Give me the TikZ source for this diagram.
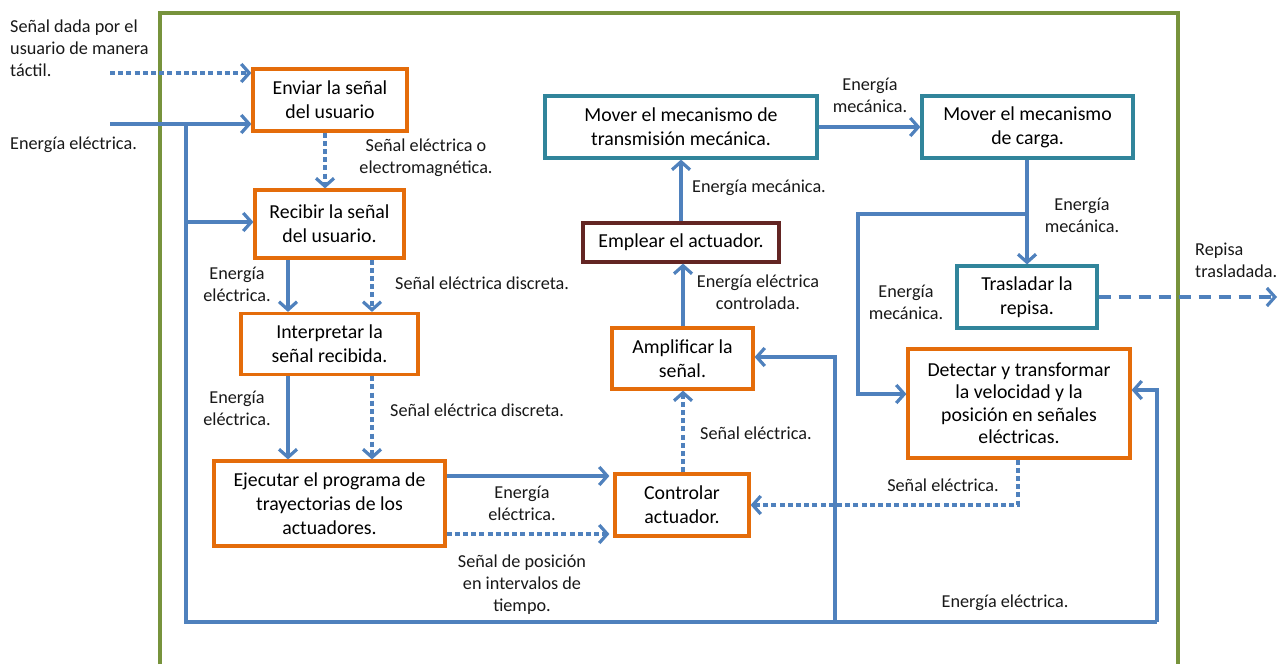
\documentclass[tikz,border=0pt]{standalone}
\usepackage{fontspec}
\setmainfont{Carlito}
\usetikzlibrary{arrows.meta}
\definecolor{frameg}{RGB}{119,147,60}
\definecolor{orng}{RGB}{228,108,10}
\definecolor{tealb}{RGB}{49,133,155}
\definecolor{brwn}{RGB}{99,37,35}
\definecolor{arr}{RGB}{79,129,189}
\definecolor{txt}{RGB}{25,25,25}
\tikzset{
  box/.style={draw, line width=3.2pt, align=center, font=\fontsize{19.8}{24}\selectfont, inner sep=2pt, text=black},
  obox/.style={box, draw=orng},
  tbox/.style={box, draw=tealb},
  bbox/.style={box, draw=brwn},
  lbl/.style={align=center, font=\fontsize{18.2}{22}\selectfont, text=txt, inner sep=0pt},
  lbll/.style={lbl, align=left},
  wire/.style={draw=arr, line width=3.2pt},
  flow/.style={wire, -{Straight Barb[length=8pt,width=18pt]}},
  sig/.style={flow, dash pattern=on 5pt off 3.2pt},
  dsh/.style={flow, dash pattern=on 12pt off 8pt}
}
\begin{document}
\begin{tikzpicture}[x=1pt,y=-1pt]
\useasboundingbox (0,0) rectangle (1287,664);
\fill[white] (0,0) rectangle (1287,664);
\draw[frameg, line width=4.5pt] (160,664) -- (160,13) -- (1178,13) -- (1178,664);

% boxes
\node[obox, minimum width=154pt, minimum height=62pt] (enviar) at (330,100) {Enviar la señal\\del usuario};
\node[obox, minimum width=149pt, minimum height=68pt] (recibir) at (329.5,224) {Recibir la señal\\del usuario.};
\node[obox, minimum width=177pt, minimum height=61pt] (interp) at (329.5,344) {Interpretar la\\señal recibida.};
\node[obox, minimum width=231pt, minimum height=85pt] (ejec) at (329.5,503.5) {Ejecutar el programa de\\trayectorias de los\\actuadores.};
\node[obox, minimum width=134pt, minimum height=62pt] (control) at (682,505) {Controlar\\actuador.};
\node[obox, minimum width=141pt, minimum height=61pt] (ampl) at (682.5,358.5) {Amplificar la\\señal.};
\node[bbox, minimum width=196pt, minimum height=39pt] (emplear) at (681,242.5) {Emplear el actuador.};
\node[tbox, minimum width=272pt, minimum height=62pt] (movtrans) at (681,127) {Mover el mecanismo de\\transmisión mecánica.};
\node[tbox, minimum width=211pt, minimum height=62pt] (movcarga) at (1027.5,127) {Mover el mecanismo\\de carga.};
\node[tbox, minimum width=140pt, minimum height=62pt] (trasl) at (1027,297) {Trasladar la\\repisa.};
\node[obox, minimum width=222pt, minimum height=109pt, font=\fontsize{19.8}{22.5}\selectfont] (detect) at (1019,403.5) {Detectar y transformar\\la velocidad y la\\posición en señales\\eléctricas.};

% helper coordinates
\coordinate (tin) at (110,73);
\coordinate (ein) at (110,124);
\coordinate (j1) at (186,124);
\coordinate (r1) at (186,222);
\coordinate (b1) at (186,622);
\coordinate (b2) at (835,622);
\coordinate (b3) at (1157,622);
\coordinate (d1) at (1157,390);
\coordinate (a1) at (835,357);
\coordinate (x325) at (325,0);
\coordinate (x288) at (288,0);
\coordinate (x372) at (372,0);
\coordinate (x683) at (683,0);
\coordinate (x1018) at (1018,0);
\coordinate (y476) at (0,476);
\coordinate (y534) at (0,534);
\coordinate (mc1) at (1027,214);
\coordinate (mc2) at (858,214);
\coordinate (mc3) at (858,394);
\coordinate (out) at (1277,297);

% connectors
\draw[sig] (tin) -- (tin -| enviar.west);
\draw[flow] (ein) -- (ein -| enviar.west);
\draw[wire] (j1) -- (b1) -- (b3);
\draw[flow] (r1) -- (r1 -| recibir.west);
\draw[flow] (b3) -- (d1) -- (d1 -| detect.east);
\draw[flow] (b2) -- (a1) -- (a1 -| ampl.east);

\draw[sig] (x325 |- enviar.south) -- (x325 |- recibir.north);
\draw[flow] (x288 |- recibir.south) -- (x288 |- interp.north);
\draw[sig] (x372 |- recibir.south) -- (x372 |- interp.north);
\draw[flow] (x288 |- interp.south) -- (x288 |- ejec.north);
\draw[sig] (x372 |- interp.south) -- (x372 |- ejec.north);
\draw[flow, shorten >=4pt] (y476 -| ejec.east) -- (y476 -| control.west);
\draw[sig, shorten >=4pt] (y534 -| ejec.east) -- (y534 -| control.west);
\draw[sig] (x683 |- control.north) -- (x683 |- ampl.south);
\draw[flow] (x683 |- ampl.north) -- (x683 |- emplear.south);
\draw[flow] (emplear.north) -- (movtrans.south);
\draw[flow] (movtrans.east) -- (movcarga.west);
\draw[flow] (movcarga.south -| trasl.north) -- (trasl.north);
\draw[flow] (mc1) -- (mc2) -- (mc3) -- (mc3 -| detect.west);
\draw[dsh] (trasl.east) -- (out);
\draw[sig] (x1018 |- detect.south) |- (control.east);

% labels
\node[lbll, anchor=north west] (l1) at (10,20) {Señal dada por el\\usuario de manera\\táctil.};
\node[lbll, anchor=west] (l2) at (10,145) {Energía eléctrica.};
\node[lbl] (l3) at (426,158) {Señal eléctrica o\\electromagnética.};
\node[lbl] (l4) at (237,284) {Energía\\eléctrica.};
\node[lbll, anchor=west] (l5) at (395,283) {Señal eléctrica discreta.};
\node[lbl] (l6) at (237,408) {Energía\\eléctrica.};
\node[lbll, anchor=west] (l7) at (390,410) {Señal eléctrica discreta.};
\node[lbl] (l8) at (522,503) {Energía\\eléctrica.};
\node[lbl] (l9) at (522,585) {Señal de posición\\en intervalos de\\tiempo.};
\node[lbll, anchor=west] (l10) at (700,433) {Señal eléctrica.};
\node[lbl] (l11) at (758,292) {Energía eléctrica\\controlada.};
\node[lbll, anchor=west] (l12) at (692,188) {Energía mecánica.};
\node[lbl] (l13) at (870,95) {Energía\\mecánica.};
\node[lbl] (l14) at (1082,215) {Energía\\mecánica.};
\node[lbl] (l15) at (906,302) {Energía\\mecánica.};
\node[lbll, anchor=west] (l16) at (1195,260) {Repisa\\trasladada.};
\node[lbl] (l17) at (943,485) {Señal eléctrica.};
\node[lbl] (l18) at (1005,603) {Energía eléctrica.};
\end{tikzpicture}
\end{document}
